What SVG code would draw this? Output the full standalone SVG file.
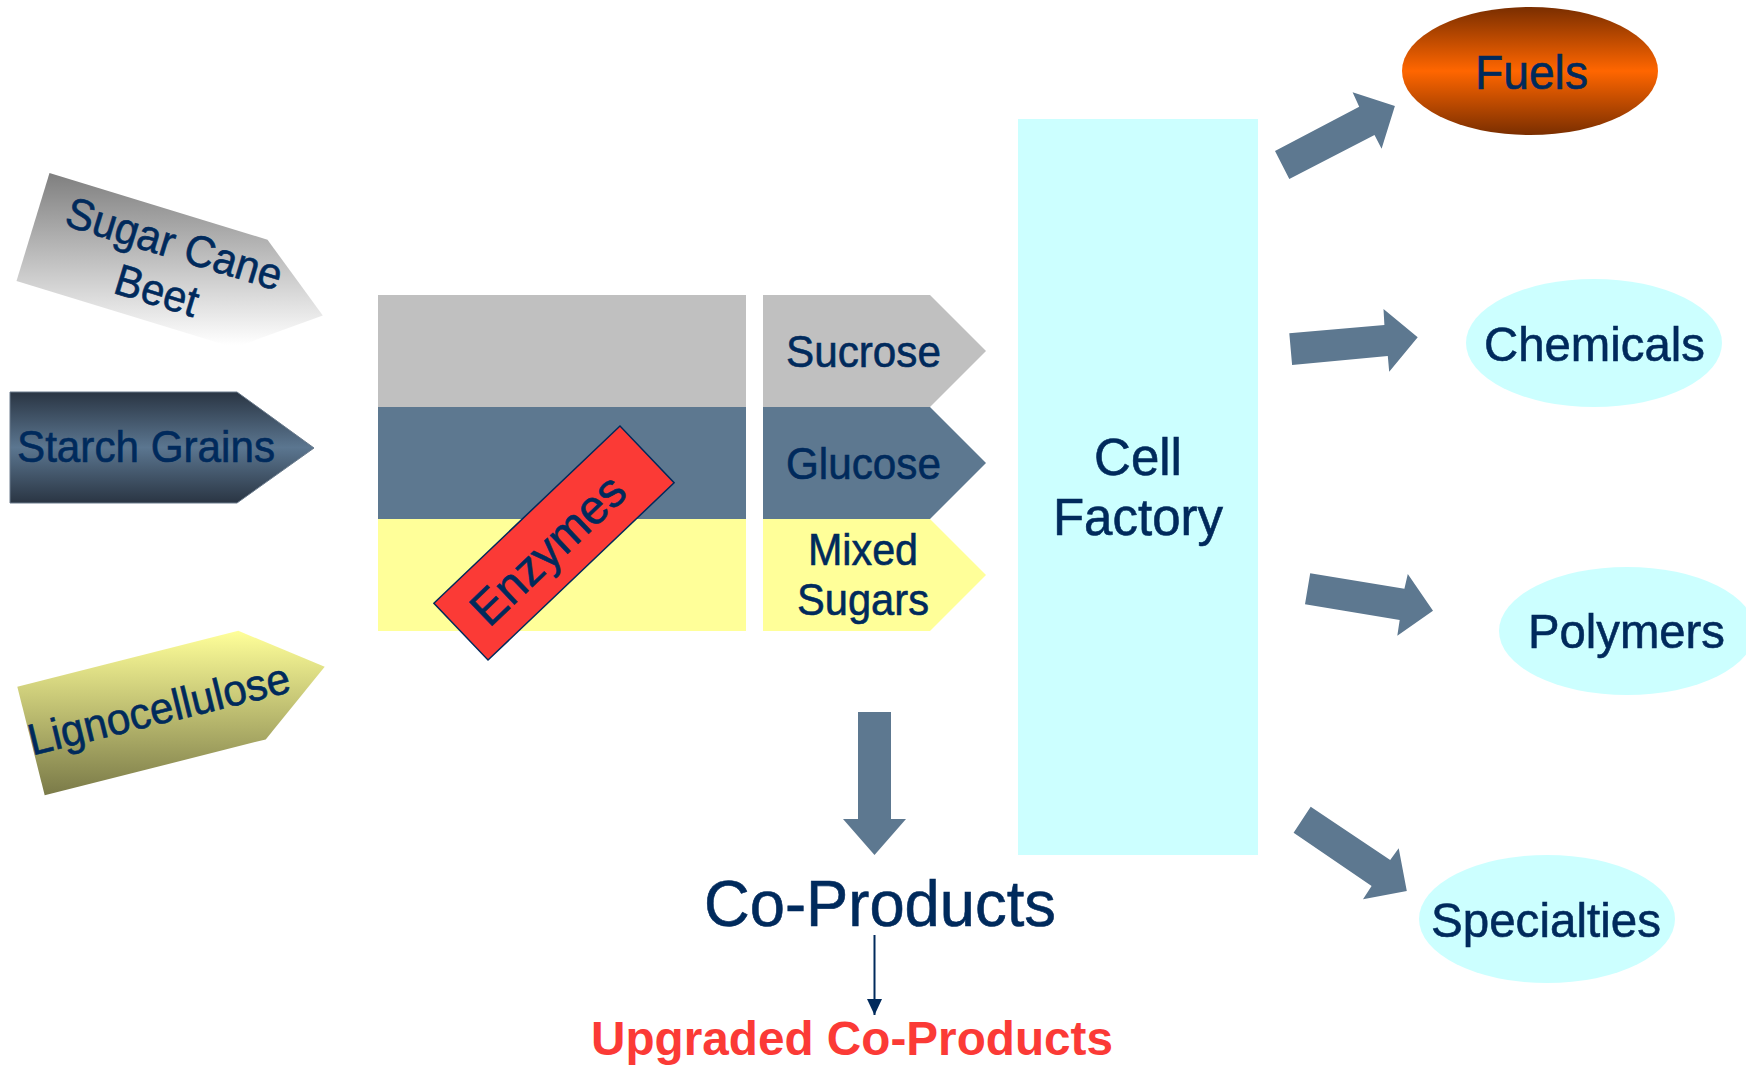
<svg xmlns="http://www.w3.org/2000/svg" width="1746" height="1065" viewBox="0 0 1746 1065">
  <defs>
    <style>
      .lbl { font-family: "Liberation Sans", Arial, sans-serif; fill: #002a5c; stroke: #002a5c; stroke-width: 0.6; }
      .flow { fill: #5d7890; }
      .oval { fill: #ccffff; }
    </style>
    <linearGradient id="gCane" gradientUnits="userSpaceOnUse" x1="0" y1="173" x2="0" y2="345">
      <stop offset="0" stop-color="#7f7f7f"/>
      <stop offset="1" stop-color="#ffffff"/>
    </linearGradient>
    <linearGradient id="gStarch" gradientUnits="userSpaceOnUse" x1="0" y1="392" x2="0" y2="503">
      <stop offset="0" stop-color="#2a3543"/>
      <stop offset="0.5" stop-color="#5b7690"/>
      <stop offset="1" stop-color="#2a3543"/>
    </linearGradient>
    <linearGradient id="gLigno" gradientUnits="userSpaceOnUse" x1="0" y1="631" x2="0" y2="795">
      <stop offset="0" stop-color="#ffff99"/>
      <stop offset="1" stop-color="#7a7a48"/>
    </linearGradient>
    <linearGradient id="gFuels" x1="0" y1="0" x2="0" y2="1">
      <stop offset="0" stop-color="#7a2e00"/>
      <stop offset="0.5" stop-color="#ff6600"/>
      <stop offset="1" stop-color="#7a2e00"/>
    </linearGradient>
    <marker id="head" viewBox="0 0 16 15" refX="16" refY="7.5" markerWidth="16" markerHeight="15" markerUnits="userSpaceOnUse" orient="auto">
      <path d="M0,0 L16,7.5 L0,15 Z" fill="#002a5c"/>
    </marker>
  </defs>

  <rect width="1746" height="1065" fill="#ffffff"/>

  <!-- feedstock inputs -->
  <g id="sugar-cane">
    <polygon points="49.5,173 267.5,239.7 322.8,315.6 234.5,347.7 16.5,281" fill="url(#gCane)"/>
    <g transform="translate(170,258) rotate(17)">
      <text class="lbl" x="-112" y="0" font-size="44" textLength="224" lengthAdjust="spacingAndGlyphs">Sugar Cane</text>
    </g>
    <g transform="translate(152.5,305) rotate(17)">
      <text class="lbl" x="-42.5" y="0" font-size="44" textLength="85" lengthAdjust="spacingAndGlyphs">Beet</text>
    </g>
  </g>

  <g id="starch-grains">
    <polygon points="10,392 237,392 314,448 237,503 10,503" fill="url(#gStarch)" stroke="#6a7b8c" stroke-width="1"/>
    <text class="lbl" x="17" y="462" font-size="44" textLength="258" lengthAdjust="spacingAndGlyphs">Starch Grains</text>
  </g>

  <g id="lignocellulose">
    <polygon points="17.3,686.7 238.3,630.8 324.7,666.7 265.7,739.4 44.7,795.3" fill="url(#gLigno)"/>
    <g transform="translate(162.5,723.5) rotate(-13.8)">
      <text class="lbl" x="-134" y="0" font-size="44" textLength="268" lengthAdjust="spacingAndGlyphs">Lignocellulose</text>
    </g>
  </g>

  <!-- pretreatment bands -->
  <g id="process-bands">
    <rect x="378" y="295" width="368" height="112" fill="#c0c0c0"/>
    <rect x="378" y="407" width="368" height="112" fill="#5d7890"/>
    <rect x="378" y="519" width="368" height="112" fill="#ffff99"/>
  </g>

  <g id="enzymes" transform="translate(554,543) rotate(-43.6)">
    <rect x="-128.5" y="-39.25" width="257" height="78.5" fill="#fb3a36" stroke="#002a5c" stroke-width="1.5"/>
    <text class="lbl" x="-106" y="17" font-size="48" textLength="194" lengthAdjust="spacingAndGlyphs">Enzymes</text>
  </g>

  <!-- sugar streams -->
  <g id="sucrose">
    <polygon points="763,295 930,295 986,351 930,407 763,407" fill="#c0c0c0"/>
    <text class="lbl" x="786" y="367" font-size="44" textLength="155" lengthAdjust="spacingAndGlyphs">Sucrose</text>
  </g>
  <g id="glucose">
    <polygon points="763,407 930,407 986,463 930,519 763,519" fill="#5d7890"/>
    <text class="lbl" x="786" y="479" font-size="44" textLength="155" lengthAdjust="spacingAndGlyphs">Glucose</text>
  </g>
  <g id="mixed-sugars">
    <polygon points="763,519 930,519 986,575 930,631 763,631" fill="#ffff99"/>
    <text class="lbl" x="808" y="565" font-size="44" textLength="110" lengthAdjust="spacingAndGlyphs">Mixed</text>
    <text class="lbl" x="797" y="615" font-size="44" textLength="132" lengthAdjust="spacingAndGlyphs">Sugars</text>
  </g>

  <g id="cell-factory">
    <rect x="1018" y="119" width="240" height="736" fill="#ccffff"/>
    <text class="lbl" x="1138" y="475" font-size="51" text-anchor="middle">Cell</text>
    <text class="lbl" x="1138" y="535" font-size="51" text-anchor="middle">Factory</text>
  </g>

  <!-- products -->
  <g id="fuels">
    <ellipse cx="1530" cy="71" rx="128" ry="64" fill="url(#gFuels)"/>
    <text class="lbl" x="1475" y="89" font-size="49" textLength="113" lengthAdjust="spacingAndGlyphs">Fuels</text>
  </g>
  <g id="chemicals">
    <ellipse class="oval" cx="1594" cy="343" rx="128" ry="64"/>
    <text class="lbl" x="1484" y="361" font-size="49" textLength="221" lengthAdjust="spacingAndGlyphs">Chemicals</text>
  </g>
  <g id="polymers">
    <ellipse class="oval" cx="1627" cy="631" rx="128" ry="64"/>
    <text class="lbl" x="1528" y="648" font-size="49" textLength="197" lengthAdjust="spacingAndGlyphs">Polymers</text>
  </g>
  <g id="specialties">
    <ellipse class="oval" cx="1547" cy="919" rx="128" ry="64"/>
    <text class="lbl" x="1431" y="937" font-size="49" textLength="230" lengthAdjust="spacingAndGlyphs">Specialties</text>
  </g>

  <g id="co-products">
    <text class="lbl" x="704" y="926" font-size="64" textLength="352" lengthAdjust="spacingAndGlyphs" stroke-width="0.3">Co-Products</text>
  </g>
  <g id="upgraded-co-products">
    <text x="591" y="1055" font-family="'Liberation Sans', Arial, sans-serif" font-weight="bold" font-size="48" fill="#fb3a36" textLength="522" lengthAdjust="spacingAndGlyphs">Upgraded Co-Products</text>
  </g>

  <!-- connectors -->
  <g id="connectors">
    <polygon class="flow" points="1275,151 1359.2,106.7 1352.6,92.3 1394.9,106 1381.6,148.7 1374.5,135 1289.3,179"/>
    <polygon class="flow" points="1289.3,333.3 1384.4,325 1383.5,309 1417.7,337.3 1389.2,371.7 1387.8,356 1292.1,365"/>
    <polygon class="flow" points="1310.2,573.3 1404.4,588.7 1407.8,574 1433,610.7 1397.3,635.7 1399.7,620 1305,604.3"/>
    <polygon class="flow" points="1310.7,806.7 1390.2,860 1398.7,848.3 1406.8,891 1363,899.3 1371.6,886 1293.6,832.7"/>
    <polygon class="flow" points="858,712 891,712 891,819 906,819 874.5,855 843,819 858,819"/>
    <line x1="874.5" y1="935" x2="874.5" y2="1015" stroke="#002a5c" stroke-width="2" marker-end="url(#head)"/>
  </g>
</svg>
